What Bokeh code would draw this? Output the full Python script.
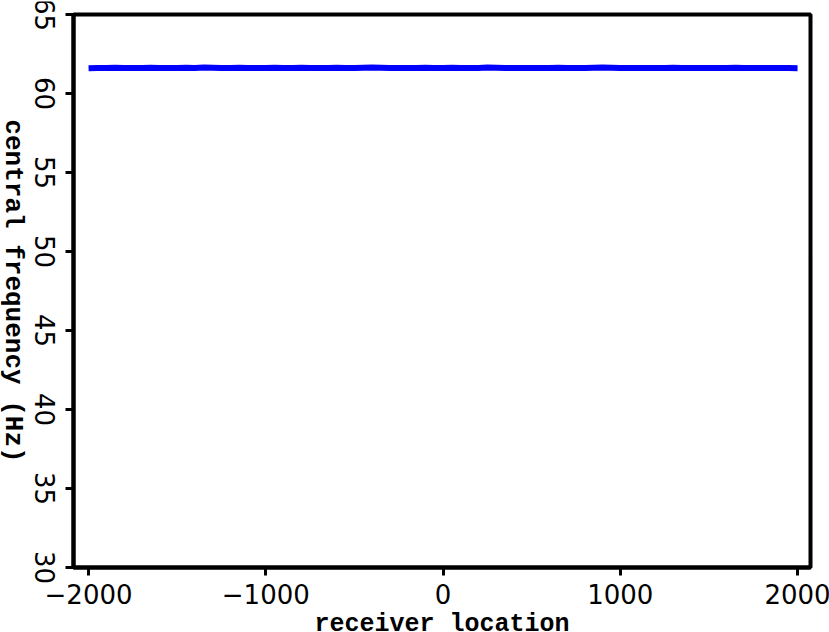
import math
from bokeh.plotting import figure
from bokeh.models import Range1d, FixedTicker, BoxAnnotation
from bokeh.core.properties import value
from bokeh.embed import file_html
from bokeh.resources import INLINE

receiver_x = list(range(-2000, 2001, 50))
central_freq = [
    61.60, 61.62, 61.61, 61.63, 61.62, 61.61, 61.62, 61.63, 61.62, 61.61,
    61.62, 61.63, 61.62, 61.64, 61.63, 61.62, 61.62, 61.63, 61.62, 61.61,
    61.62, 61.63, 61.62, 61.62, 61.63, 61.62, 61.61, 61.62, 61.63, 61.62,
    61.62, 61.63, 61.64, 61.63, 61.62, 61.61, 61.62, 61.62, 61.63, 61.62,
    61.62, 61.63, 61.62, 61.61, 61.62, 61.64, 61.63, 61.62, 61.61, 61.62,
    61.62, 61.61, 61.62, 61.63, 61.62, 61.61, 61.62, 61.63, 61.64, 61.63,
    61.62, 61.61, 61.62, 61.62, 61.61, 61.62, 61.63, 61.62, 61.61, 61.62,
    61.62, 61.61, 61.62, 61.63, 61.62, 61.61, 61.62, 61.61, 61.62, 61.61,
    61.60,
]
x_ticks = [-2000, -1000, 0, 1000, 2000]
x_tick_labels = ["\u22122000", "\u22121000", "0", "1000", "2000"]
y_ticks = [30, 35, 40, 45, 50, 55, 60, 65]
y_tick_labels = ["30", "35", "40", "45", "50", "55", "60", "65"]
x_label = "receiver location"
y_label = "central frequency (Hz)"

# axes box limits (data units)
X0, X1 = -2085, 2073
Y0, Y1 = 30, 65

# pixel layout: canvas and where the axes box sits in it
W, H = 829, 632
BORDER_TOP, BORDER_RIGHT = 1, 0
BOX_L, BOX_R, BOX_T, BOX_B = 73, 810, 14, 567

u = (X1 - X0) / (BOX_R - BOX_L)
v = (Y1 - Y0) / (BOX_B - BOX_T)
frame_r = W - BORDER_RIGHT
x_start = X0 - BOX_L * u
x_end = X1 + (frame_r - BOX_R) * u
y_end = Y1 + (BOX_T - BORDER_TOP) * v
y_start = Y0 - (H - BOX_B) * v

p = figure(width=W, height=H, output_backend="svg", toolbar_location=None,
           x_range=Range1d(x_start, x_end), y_range=Range1d(y_start, y_end),
           x_axis_location="above", y_axis_location="right",
           min_border_left=0, min_border_bottom=0,
           min_border_top=BORDER_TOP, min_border_right=BORDER_RIGHT)
p.xgrid.visible = False
p.ygrid.visible = False
p.outline_line_color = None

p.line(receiver_x, central_freq, line_color="#0000ff", line_width=6)

# the axes, pinned to the box edges, with ticks pointing outward from the box
p.xaxis.fixed_location = Y0
p.yaxis.fixed_location = X0
p.xaxis.ticker = FixedTicker(ticks=x_ticks)
p.yaxis.ticker = FixedTicker(ticks=y_ticks)
p.xaxis.bounds = (X0, X1)
p.yaxis.bounds = (Y0, Y1)
p.xaxis.major_label_overrides = {t: "" for t in x_ticks}
p.yaxis.major_label_overrides = {t: "" for t in y_ticks}
for ax in (p.xaxis, p.yaxis):
    ax.axis_line_width = 4
    ax.axis_line_color = "black"
    ax.major_tick_line_width = 3
    ax.major_tick_in = 8
    ax.major_tick_out = 0
    ax.minor_tick_line_color = None
    ax.major_label_standoff = 0
    ax.major_label_text_font_size = "1px"

p.add_layout(BoxAnnotation(left=X0, right=X1, bottom=Y0, top=Y1,
                           fill_color=None, line_color="black", line_width=4, line_alpha=1))

# tick labels and axis titles
p.text(x=x_ticks, y=[Y0] * len(x_ticks), text=x_tick_labels, y_offset=26,
       text_align="center", text_baseline="middle",
       text_font=value("DejaVu Sans"), text_font_size="26px", text_color="black")
p.text(x=[X0] * len(y_ticks), y=y_ticks, text=y_tick_labels, x_offset=-29,
       angle=-math.pi / 2, text_align="center", text_baseline="middle",
       text_font=value("DejaVu Sans"), text_font_size="26px", text_color="black")
p.text(x=[(X0 + X1) / 2], y=[Y0], text=[x_label], y_offset=57,
       text_align="center", text_baseline="middle",
       text_font=value("Liberation Mono"), text_font_style="bold",
       text_font_size="25px", text_color="black")
p.text(x=[X0], y=[(Y0 + Y1) / 2], text=[y_label], x_offset=-61,
       angle=-math.pi / 2, text_align="center", text_baseline="middle",
       text_font=value("Liberation Mono"), text_font_style="bold",
       text_font_size="26px", text_color="black")

open("out.html", "w").write(file_html(p, INLINE))
